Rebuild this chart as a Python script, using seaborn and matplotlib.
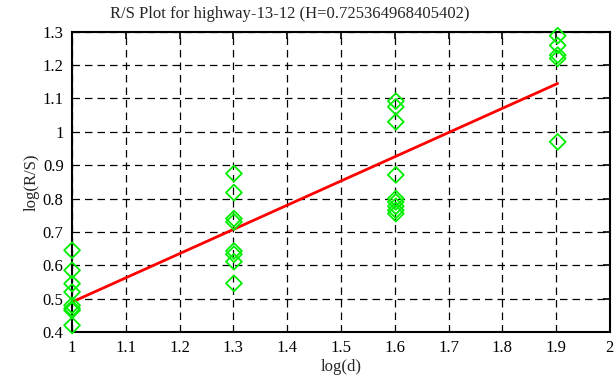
import numpy as np
import pandas as pd
import matplotlib
matplotlib.use("Agg")
import matplotlib.pyplot as plt
import seaborn as sns

# log(d) groups and log(R/S) values
log_d_groups = [1.0, 1.301, 1.602, 1.903]
rs_d1 = [0.645, 0.585, 0.545, 0.52, 0.48, 0.47, 0.465, 0.42]
rs_d2 = [0.875, 0.818, 0.74, 0.73, 0.643, 0.633, 0.611, 0.546]
rs_d3 = [1.092, 1.075, 1.03, 0.871, 0.8, 0.79, 0.777, 0.765, 0.755]
rs_d4 = [1.288, 1.259, 1.23, 1.22, 0.97]

# fitted line endpoints
fit_x = [1.0, 1.903]
fit_y = [0.49, 1.145]

rows = []
for x, vals in zip(log_d_groups, [rs_d1, rs_d2, rs_d3, rs_d4]):
    for v in vals:
        rows.append({"logd": x, "logrs": v})
df = pd.DataFrame(rows)
fit = pd.DataFrame({"logd": fit_x, "logrs": fit_y})

sns.set_style("white")
plt.rcParams['font.family'] = ['Liberation Serif', 'DejaVu Serif']

fig = plt.figure(figsize=(6.16, 3.87), dpi=100)
ax = fig.add_axes([0.117, 0.142, 0.873, 0.776])

sns.lineplot(data=fit, x="logd", y="logrs", color="#ff0000", linewidth=2, ax=ax)
sns.scatterplot(data=df, x="logd", y="logrs", marker="D", s=65,
                facecolor="none", edgecolor="#00ee00", linewidth=1.3, ax=ax,
                zorder=5, clip_on=False)

ax.set_xlim(1, 2)
ax.set_ylim(0.4, 1.3)
ax.set_xticks(np.arange(1, 2.01, 0.1))
ax.set_yticks(np.arange(0.4, 1.31, 0.1))
ax.xaxis.set_major_formatter(matplotlib.ticker.FormatStrFormatter('%g'))
ax.yaxis.set_major_formatter(matplotlib.ticker.FormatStrFormatter('%g'))
ax.grid(True, color="black", linestyle=(0, (6, 4)), linewidth=0.9)
ax.tick_params(direction="in", length=5, width=1.2, top=True, right=True,
               labelsize=12, colors="black", pad=6)
for sp in ax.spines.values():
    sp.set_color("black")
    sp.set_linewidth(1.5)

ax.set_xlabel("log(d)", fontsize=12, labelpad=2)
ax.set_ylabel("log(R/S)", fontsize=12, labelpad=2)
fig.text(0.471, 0.985, "R/S Plot for highway-13-12 (H=0.725364968405402)",
         fontsize=12, ha="center", va="top")

fig.savefig("out.png", dpi=100)
